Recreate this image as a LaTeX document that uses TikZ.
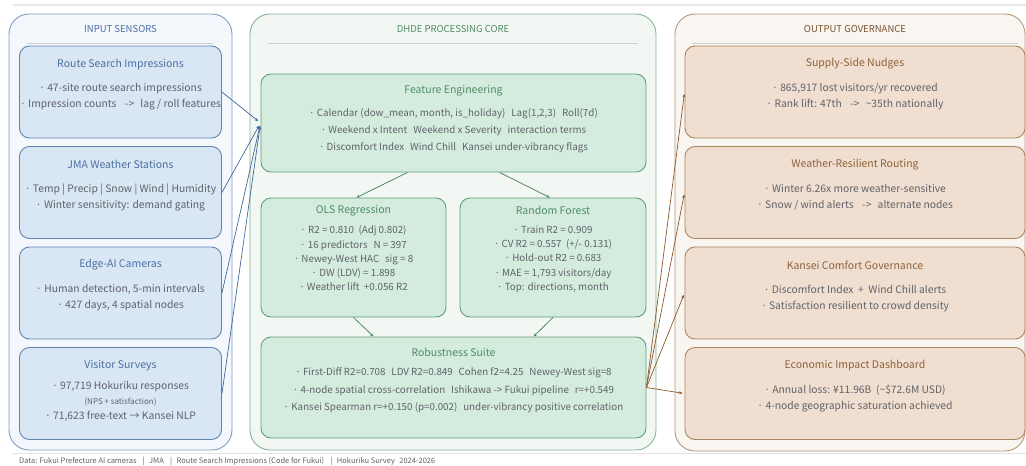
\documentclass[tikz,border=0pt]{standalone}
\usepackage{fontspec}
\setmainfont{Noto Sans CJK JP}
\usetikzlibrary{positioning,arrows.meta}

\definecolor{inedge}{HTML}{7E9CC6}
\definecolor{infill}{HTML}{F4F7FC}
\definecolor{inboxfill}{HTML}{D9E6F4}
\definecolor{inboxedge}{HTML}{6183B2}
\definecolor{intitle}{HTML}{4B70A3}
\definecolor{inarrow}{HTML}{3F6A9C}
\definecolor{coreedge}{HTML}{84B594}
\definecolor{corefill}{HTML}{F2F7F3}
\definecolor{coreboxfill}{HTML}{D4ECDE}
\definecolor{coreboxedge}{HTML}{629F79}
\definecolor{coretitle}{HTML}{4F8B64}
\definecolor{outedge}{HTML}{B69676}
\definecolor{outfill}{HTML}{F9F5F1}
\definecolor{outboxfill}{HTML}{F0DFD0}
\definecolor{outboxedge}{HTML}{AA865F}
\definecolor{outtitle}{HTML}{8E6139}
\definecolor{outarrow}{HTML}{8B5A2B}
\definecolor{bodytext}{HTML}{60626A}
\definecolor{rulegray}{HTML}{CFCFCF}

\newcommand{\colgap}{\hspace{0.6em}}

\tikzset{
  panel/.style={rounded corners=20pt, line width=0.9pt},
  panelhead/.style={font=\fontsize{9.5}{11}\selectfont, inner sep=0pt},
  box/.style={rounded corners=10pt, line width=0.9pt, inner sep=0pt},
  inbox/.style={box, draw=inboxedge, fill=inboxfill, minimum width=202pt, minimum height=92pt},
  outbox/.style={box, draw=outboxedge, fill=outboxfill, minimum width=340pt, minimum height=92pt},
  corebox/.style={box, draw=coreboxedge, fill=coreboxfill},
  boxtitle/.style={font=\fontsize{10.5}{12}\selectfont, inner sep=0pt},
  boxbody/.style={font=\fontsize{10.3}{16}\selectfont, text=bodytext, align=center, inner sep=0pt, anchor=north},
  inlink/.style={draw=inarrow, line width=0.7pt, -{Stealth[length=3.5pt,width=3pt]}},
  corelink/.style={draw=coretitle, line width=0.8pt, -{Stealth[length=3.5pt,width=3pt]}},
  outlink/.style={draw=outarrow, line width=0.7pt, -{Stealth[length=3.5pt,width=3pt]}}
}

\begin{document}
\begin{tikzpicture}[x=1pt, y=-1pt]
  \useasboundingbox (0,0) rectangle (1026,466);
  \fill[white] (0,0) rectangle (1026,466);

  % frame rules and footer
  \draw[line width=2pt, draw=black!9] (13,5) -- (1026,5);
  \draw[line width=1pt, draw=black!11] (13,453) -- (1026,453);
  \node[anchor=west, inner sep=0pt, text=black!62, font=\fontsize{7.5}{8}\selectfont] (footer) at (19,461)
    {Data: Fukui Prefecture AI cameras \colgap|\colgap JMA \colgap|\colgap Route Search Impressions (Code for Fukui) \colgap|\colgap Hokuriku Survey\colgap 2024-2026};

  % three columns
  \draw[panel, draw=inedge, fill=infill] (9,14) rectangle (232,450);
  \draw[panel, draw=coreedge, fill=corefill] (250,14) rectangle (656,450);
  \draw[panel, draw=outedge, fill=outfill] (675,14) rectangle (1025,451);

  \node[panelhead, text=intitle] (inhead) at (120.5,29) {INPUT SENSORS};
  \node[panelhead, text=coretitle] (corehead) at (453,29) {DHDE PROCESSING CORE};
  \node[panelhead, text=outtitle!85!black] (outhead) at (855,29) {OUTPUT GOVERNANCE};
  \draw[draw=rulegray, line width=0.6pt] (27,43) -- (213,43);
  \draw[draw=rulegray, line width=0.6pt] (268,43) -- (638,43);
  \draw[draw=rulegray, line width=0.6pt] (692,43) -- (1018,43);

  % input sensors
  \node[inbox] (route) at (120.5,92) {};
  \node[inbox] (jma) at (120.5,192.5) {};
  \node[inbox] (camera) at (120.5,293) {};
  \node[inbox] (survey) at (120.5,393.5) {};

  \node[boxtitle, text=intitle] (routet) at ([yshift=-18.5pt]route.north) {Route Search Impressions};
  \node[boxbody] (routeb) at ([yshift=-38pt]route.north)
    {· 47-site route search impressions\\ · Impression counts \colgap->\colgap lag / roll features};
  \node[boxtitle, text=intitle] (jmat) at ([yshift=-18.5pt]jma.north) {JMA Weather Stations};
  \node[boxbody] (jmab) at ([yshift=-38pt]jma.north)
    {· Temp | Precip | Snow | Wind | Humidity\\ · Winter sensitivity: demand gating};
  \node[boxtitle, text=intitle] (camerat) at ([yshift=-18.5pt]camera.north) {Edge-AI Cameras};
  \node[boxbody] (camerab) at ([yshift=-38pt]camera.north)
    {· Human detection, 5-min intervals\\ · 427 days, 4 spatial nodes};
  \node[boxtitle, text=intitle] (surveyt) at ([yshift=-18.5pt]survey.north) {Visitor Surveys};
  \node[boxbody, font=\fontsize{10.3}{15}\selectfont] (surveyb) at ([yshift=-34pt]survey.north)
    {· 97,719 Hokuriku responses\\ {\fontsize{8}{9}\selectfont (NPS + satisfaction)}\\ · 71,623 free-text → Kansei NLP};

  % processing core
  \node[corebox, minimum width=385pt, minimum height=98pt] (feat) at (453.5,123) {};
  \node[corebox, minimum width=185pt, minimum height=119pt] (ols) at (353.5,257.5) {};
  \node[corebox, minimum width=186pt, minimum height=119pt] (forest) at (553,257.5) {};
  \node[corebox, minimum width=385pt, minimum height=101pt] (robust) at (453.5,387.5) {};

  \node[boxtitle, text=coretitle] (featt) at ([yshift=-17pt]feat.north) {Feature Engineering};
  \node[boxbody, font=\fontsize{9.8}{17}\selectfont] (featb) at ([yshift=-34.5pt]feat.north)
    {· Calendar (dow\_mean, month, is\_holiday)\colgap Lag(1,2,3)\colgap Roll(7d)\\
     · Weekend x Intent\colgap Weekend x Severity\colgap interaction terms\\
     · Discomfort Index\colgap Wind Chill\colgap Kansei under-vibrancy flags};
  \node[boxtitle, text=coretitle] (olst) at ([yshift=-13pt]ols.north) {OLS Regression};
  \node[boxbody, font=\fontsize{9.8}{14.3}\selectfont] (olsb) at ([yshift=-28pt]ols.north)
    {· R2 = 0.810\ \ (Adj 0.802)\\ · 16 predictors\colgap N = 397\\ · Newey-West HAC\colgap sig = 8\\
     · DW (LDV) = 1.898\\ · Weather lift\ \ +0.056 R2};
  \node[boxtitle, text=coretitle] (forestt) at ([yshift=-13pt]forest.north) {Random Forest};
  \node[boxbody, font=\fontsize{9.8}{14.3}\selectfont] (forestb) at ([yshift=-28pt]forest.north)
    {· Train R2 = 0.909\\ · CV R2 = 0.557\ \ (+/- 0.131)\\ · Hold-out R2 = 0.683\\
     · MAE = 1,793 visitors/day\\ · Top: directions, month};
  \node[boxtitle, text=coretitle] (robustt) at ([yshift=-16pt]robust.north) {Robustness Suite};
  \node[boxbody, font=\fontsize{9.8}{17.5}\selectfont] (robustb) at ([yshift=-31pt]robust.north)
    {· First-Diff R2=0.708\colgap LDV R2=0.849\colgap Cohen f2=4.25\colgap Newey-West sig=8\\
     · 4-node spatial cross-correlation\colgap Ishikawa -> Fukui pipeline\colgap r=+0.549\\
     · Kansei Spearman r=+0.150 (p=0.002)\colgap under-vibrancy positive correlation};

  \draw[corelink] ([xshift=-46pt]feat.south) -- ([xshift=3pt]ols.north);
  \draw[corelink] ([xshift=46pt]feat.south) -- ([xshift=-3pt]forest.north);
  \draw[corelink] (ols.south) -- ([xshift=-80pt]robust.north);
  \draw[corelink] (forest.south) -- ([xshift=80pt]robust.north);

  % output governance
  \node[outbox] (nudge) at (855,92) {};
  \node[outbox] (routing) at (855,192.5) {};
  \node[outbox] (comfort) at (855,293) {};
  \node[outbox] (impact) at (855,393.5) {};

  \node[boxtitle, text=outtitle] (nudget) at ([yshift=-18.5pt]nudge.north) {Supply-Side Nudges};
  \node[boxbody] (nudgeb) at ([yshift=-38pt]nudge.north)
    {· 865,917 lost visitors/yr recovered\\ · Rank lift: 47th \colgap->\colgap \textasciitilde 35th nationally};
  \node[boxtitle, text=outtitle] (routingt) at ([yshift=-18.5pt]routing.north) {Weather-Resilient Routing};
  \node[boxbody] (routingb) at ([yshift=-38pt]routing.north)
    {· Winter 6.26x more weather-sensitive\\ · Snow / wind alerts \colgap->\colgap alternate nodes};
  \node[boxtitle, text=outtitle] (comfortt) at ([yshift=-18.5pt]comfort.north) {Kansei Comfort Governance};
  \node[boxbody] (comfortb) at ([yshift=-38pt]comfort.north)
    {· Discomfort Index \ +\ \ Wind Chill alerts\\ · Satisfaction resilient to crowd density};
  \node[boxtitle, text=outtitle] (impactt) at ([yshift=-18.5pt]impact.north) {Economic Impact Dashboard};
  \node[boxbody] (impactb) at ([yshift=-37.5pt]impact.north)
    {· Annual loss: ¥11.96B\ \ (\textasciitilde\$72.6M USD)\\ · 4-node geographic saturation achieved};

  % sensors feed the feature stage, robustness feeds the outputs
  \foreach \src in {route,jma,camera,survey}
    \draw[inlink, shorten >=3pt] (\src.east) -- (feat.west);
  \foreach \dst in {nudge,routing,comfort,impact}
    \draw[outlink, shorten >=2pt] (robust.east) -- (\dst.west);
\end{tikzpicture}
\end{document}
